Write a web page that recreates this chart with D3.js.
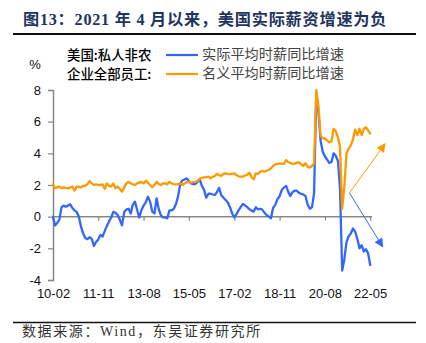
<!DOCTYPE html>
<html><head><meta charset="utf-8">
<script src="https://cdn.jsdelivr.net/npm/d3@7"></script>
<style>html,body{margin:0;padding:0;background:#fff;}svg{display:block;}</style>
</head><body>
<script>
// ---- data ----
const startMonth = "2010-02";
const tickLabels = ["10-02","11-11","13-08","15-05","17-02","18-11","20-08","22-05"];
const yTicks = [8,6,4,2,0,-2,-4];
const seriesNames = ["实际平均时薪同比增速","名义平均时薪同比增速"];
const legendPrefix = ["美国:私人非农","企业全部员工:"];
const realWage = [0.0,-0.55,-0.4,-0.2,0.6,0.7,0.62,0.7,0.78,0.55,0.4,0.3,0.0,-0.6,-1.05,-1.35,-1.42,-1.3,-1.4,-1.85,
-1.6,-1.45,-1.15,-1.26,-0.9,-0.6,-0.3,-0.05,0.3,0.25,0.1,-0.2,-0.55,0.3,0.45,0.5,0.2,0.75,0.95,0.45,
-0.05,0.4,0.7,0.9,1.26,0.95,0.32,0.2,1.16,0.5,0.1,-0.05,-0.05,-0.1,0.4,0.4,0.5,0.8,1.3,2.1,
2.3,2.35,2.42,2.25,2.1,2.06,2.06,2.2,2.36,1.95,1.7,1.2,1.45,1.45,1.4,1.37,1.55,1.82,1.35,1.2,
1.05,0.9,0.6,0.2,-0.04,0.15,0.4,0.6,0.8,0.72,0.6,0.47,0.38,0.32,0.6,0.45,0.5,0.45,0.25,0.1,
0.0,-0.1,0.55,0.75,1.1,1.3,1.68,1.85,1.94,1.58,1.31,1.55,1.64,1.64,1.5,1.45,1.4,1.3,0.75,0.5,
0.6,1.5,7.8,6.6,4.8,4.1,3.8,3.6,3.4,3.45,4.0,3.85,3.5,1.8,-3.4,-2.7,-1.6,-1.25,-1.05,-0.75,
-0.95,-1.4,-2.0,-1.8,-2.2,-2.05,-2.3,-3.05];
const nominalWage = [2.05,1.8,1.85,1.9,1.8,1.85,1.82,1.78,1.85,1.9,1.65,1.9,1.88,1.85,1.94,1.95,2.06,2.25,2.1,2.0,
2.05,2.0,2.0,2.04,1.75,2.1,1.95,1.9,2.1,1.8,1.9,1.75,1.58,1.85,2.1,2.2,2.1,2.05,2.0,2.1,
2.15,2.2,2.1,2.27,2.15,2.0,1.86,2.0,2.2,2.06,2.0,2.1,2.1,2.04,2.2,2.1,2.06,2.04,2.05,2.1,
2.0,2.1,2.18,2.2,2.15,2.18,2.2,2.25,2.4,2.45,2.48,2.5,2.53,2.42,2.5,2.57,2.7,2.62,2.57,2.72,
2.74,2.7,2.68,2.72,2.74,2.63,2.55,2.53,2.53,2.6,2.65,2.78,2.5,2.36,2.74,2.7,2.85,2.89,2.84,2.9,
2.95,3.05,3.2,3.3,3.33,3.37,3.35,3.33,3.58,3.45,3.4,3.33,3.35,3.41,3.43,3.3,3.2,3.37,3.16,3.1,
3.2,3.37,8.0,7.0,5.1,4.95,4.95,4.8,4.7,4.75,5.55,5.4,5.0,4.4,0.5,1.9,4.0,4.3,4.5,4.9,
5.5,5.15,5.55,5.15,5.55,5.65,5.45,5.25];
// annotation arrows: [fromMonthIndex, fromValue, toMonthIndex, toValue]
const arrowOrange = [137.4, 1.5, 153.9, 4.6];
const arrowBlue = [137.4, 1.5, 152.8, -1.9];

const colors = ["#3366FF", "#FF9900"];

// ---- chart ----
const W = 426, H = 343;
const svg = d3.select("body").append("svg").attr("width", W).attr("height", H);
svg.append("rect").attr("width", W).attr("height", H).attr("fill", "#fff");

const t0 = d3.utcParse("%Y-%m")(startMonth);
const dates = realWage.map((d, i) => d3.utcMonth.offset(t0, i));
const x = d3.scaleUtc().domain([dates[0], dates[dates.length - 1]]).range([53, 370.2]);
const xi = d3.scaleLinear().domain([0, realWage.length - 1]).range([53, 370.2]);
const y = d3.scaleLinear().domain([-4, 8]).range([280, 90]);
const fmt = d3.utcFormat("%y-%m");
const tickDates = dates.filter(d => tickLabels.includes(fmt(d)));

// title
svg.append("text").attr("x", 23).attr("y", 25)
  .attr("font-family", "'Liberation Serif','Noto Sans CJK SC',serif")
  .attr("font-weight", "bold").attr("font-size", 16.2).attr("fill", "#1F3560")
  .attr("letter-spacing", 0.75)
  .text("图13：2021 年 4 月以来，美国实际薪资增速为负");
svg.append("line").attr("x1", 13).attr("x2", 416).attr("y1", 34).attr("y2", 34)
  .attr("stroke", "#111").attr("stroke-width", 1.8);

// source
svg.append("line").attr("x1", 13).attr("x2", 416).attr("y1", 322.5).attr("y2", 322.5)
  .attr("stroke", "#111").attr("stroke-width", 1.6);
svg.append("text").attr("x", 22).attr("y", 336)
  .attr("font-family", "'Liberation Serif','Noto Sans CJK SC',serif")
  .attr("font-size", 14).attr("fill", "#333").attr("letter-spacing", 1.6)
  .text("数据来源：Wind，东吴证券研究所");

// y axis
const yAxis = d3.axisLeft(y).tickValues(yTicks).tickSize(5).tickPadding(7).tickFormat(d3.format("d"));
const gy = svg.append("g").attr("transform", "translate(53,0)").call(yAxis);
gy.select(".domain").attr("stroke", "#888").attr("stroke-width", 1.5);
gy.selectAll(".tick line").attr("stroke", "#888").attr("stroke-width", 1.2);
gy.selectAll("text").attr("font-family", "'Liberation Sans',Arial,sans-serif").attr("font-size", 13).attr("fill", "#111")
  .text(d => d < 0 ? "-" + Math.abs(d) : d);

// x axis: ticks on zero line
const gx = svg.append("g").attr("transform", `translate(0,${y(0)})`)
  .call(d3.axisBottom(x).tickValues(tickDates).tickSize(4).tickFormat(""));
gx.select(".domain").attr("d", `M53,0H372`).attr("stroke", "#888").attr("stroke-width", 1.5);
gx.selectAll(".tick line").attr("stroke", "#888").attr("stroke-width", 1.2);

// x labels at bottom
const gxl = svg.append("g").attr("transform", "translate(0,289)")
  .call(d3.axisBottom(x).tickValues(tickDates).tickSize(0).tickPadding(0).tickFormat(fmt));
gxl.select(".domain").remove();
gxl.selectAll("text").attr("font-family", "'Liberation Sans',Arial,sans-serif").attr("font-size", 13).attr("fill", "#111");

// "%" label
svg.append("text").attr("x", 35).attr("y", 69).attr("text-anchor", "middle")
  .attr("font-family", "'Liberation Sans',Arial,sans-serif").attr("font-size", 13).attr("fill", "#111").text("%");

// lines
const line = d3.line().x((d, i) => x(dates[i])).y(d => y(d));
[realWage, nominalWage].forEach((s, k) => {
  svg.append("path").datum(s).attr("d", line).attr("fill", "none")
    .attr("stroke", colors[k]).attr("stroke-width", 2.3)
    .attr("stroke-linejoin", "round").attr("stroke-linecap", "round");
});

// arrows
const defs = svg.append("defs");
colors.forEach((c, k) => {
  defs.append("marker").attr("id", "ah" + k).attr("viewBox", "0 0 10 10")
    .attr("refX", 9).attr("refY", 5).attr("markerWidth", 11).attr("markerHeight", 9)
    .attr("markerUnits", "userSpaceOnUse").attr("orient", "auto")
    .append("path").attr("d", "M0,0L10,5L0,10Z").attr("fill", c);
});
[[arrowBlue, 0], [arrowOrange, 1]].forEach(([a, k]) => {
  svg.append("line").attr("x1", xi(a[0])).attr("y1", y(a[1])).attr("x2", xi(a[2])).attr("y2", y(a[3]))
    .attr("stroke", colors[k]).attr("stroke-width", 1).attr("marker-end", `url(#ah${k})`);
});

// legend
const lg = svg.append("g");
legendPrefix.forEach((t, k) => {
  const yy = k === 0 ? 60 : 79;
  lg.append("text").attr("x", 67).attr("y", yy)
    .attr("font-family", "'Noto Sans CJK SC',sans-serif").attr("font-weight", 500)
    .attr("font-size", 13.4).attr("fill", "#000").text(t);
  lg.append("line").attr("x1", 166).attr("x2", 198).attr("y1", yy - 5).attr("y2", yy - 5)
    .attr("stroke", colors[k]).attr("stroke-width", 2.2);
  lg.append("text").attr("x", 202).attr("y", yy - 1)
    .attr("font-family", "'Noto Sans CJK SC',sans-serif").attr("font-size", 14.2).attr("fill", "#444").text(seriesNames[k]);
});
</script>
</body></html>
